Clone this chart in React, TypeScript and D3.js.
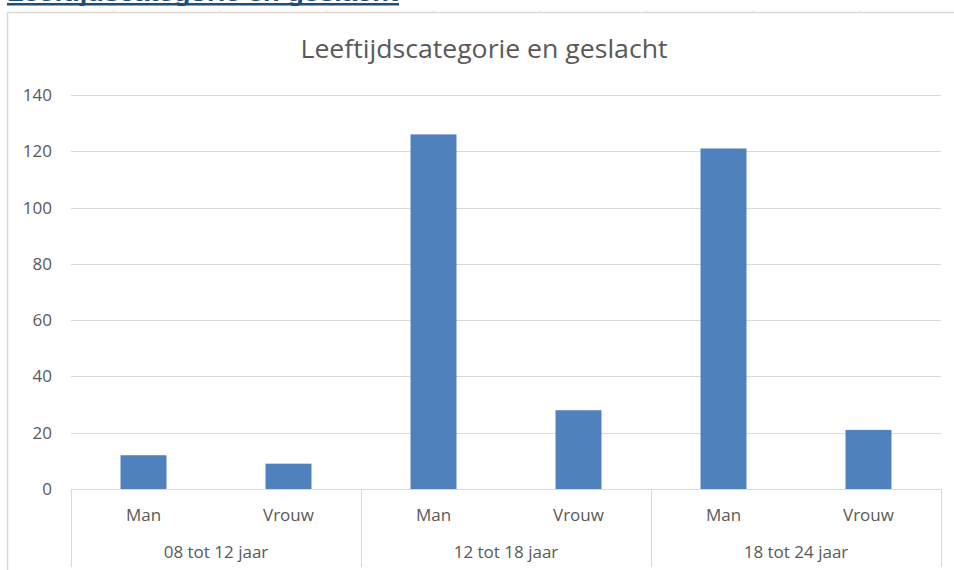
import React, { useEffect, useRef } from 'react';
import * as d3 from 'd3';

const ageGroups = ['08 tot 12 jaar', '12 tot 18 jaar', '18 tot 24 jaar'];
const genders = ['Man', 'Vrouw'];
const manValues = [12, 126, 121];
const vrouwValues = [9, 28, 21];
const yTicks = [0, 20, 40, 60, 80, 100, 120, 140];

const width = 954;
const height = 570;

const App: React.FC = () => {
  const svgRef = useRef<SVGSVGElement>(null);

  useEffect(() => {
    if (!svgRef.current) return;
    const svg = d3.select(svgRef.current);
    svg.selectAll('*').remove();

    const rows = ageGroups.flatMap((g, i) => [
      { group: g, gender: genders[0], value: manValues[i] },
      { group: g, gender: genders[1], value: vrouwValues[i] },
    ]);
    const key = (d: { group: string; gender: string }) => d.group + '|' + d.gender;

    const left = 71;
    const right = 941;
    const bottom = 489;
    const top = 95;
    const axisBottom = 567;

    const x = d3.scaleBand<string>()
      .domain(rows.map(key))
      .range([left, right])
      .paddingInner(0.683)
      .paddingOuter(0.683 / 2);
    const xGroup = d3.scaleBand<string>().domain(ageGroups).range([left, right]);
    const y = d3.scaleLinear().domain([0, 140]).range([bottom, top]);

    const grey = '#d9d9d9';
    const text = '#595959';
    const font = "'Open Sans', 'Liberation Sans', sans-serif";

    // heading above the chart, cut by the top of the page like in the screenshot
    svg.append('text')
      .attr('x', 7).attr('y', 1)
      .attr('fill', '#1f4e79')
      .attr('font-family', "'Liberation Sans', Arial, sans-serif")
      .attr('font-weight', 'bold')
      .attr('font-size', 22)
      .attr('textLength', 391)
      .attr('lengthAdjust', 'spacingAndGlyphs')
      .text('Leeftijdscategorie en geslacht');
    svg.append('rect')
      .attr('x', 7).attr('y', 3).attr('width', 392).attr('height', 2.5)
      .attr('fill', '#1f4e79');

    // sheet cell marks above the border
    svg.selectAll('.cell')
      .data(d3.range(8))
      .enter()
      .append('line')
      .attr('x1', (i) => 114 + i * 106.5)
      .attr('x2', (i) => 114 + i * 106.5)
      .attr('y1', 10).attr('y2', 12)
      .attr('stroke', '#e6e6e6');

    // chart border
    svg.append('path')
      .attr('d', `M7.5,${height} V12.5 H${width}`)
      .attr('fill', 'none')
      .attr('stroke', grey)
      .attr('stroke-width', 1.5);

    // title
    svg.append('text')
      .attr('x', 484).attr('y', 58)
      .attr('text-anchor', 'middle')
      .attr('fill', text)
      .attr('font-family', font)
      .attr('font-size', 26)
      .attr('textLength', 367)
      .attr('lengthAdjust', 'spacingAndGlyphs')
      .text('Leeftijdscategorie en geslacht');

    // gridlines
    svg.selectAll('.grid')
      .data(yTicks.filter((t) => t > 0))
      .enter()
      .append('line')
      .attr('x1', left).attr('x2', right)
      .attr('y1', (d) => Math.round(y(d)) + 0.5)
      .attr('y2', (d) => Math.round(y(d)) + 0.5)
      .attr('stroke', grey);

    // y labels
    svg.selectAll('.ylab')
      .data(yTicks)
      .enter()
      .append('text')
      .attr('x', 52)
      .attr('y', (d) => y(d))
      .attr('dy', '0.35em')
      .attr('text-anchor', 'end')
      .attr('fill', text)
      .attr('font-family', font)
      .attr('font-size', 17)
      .text((d) => d);

    // bars
    svg.selectAll('.bar')
      .data(rows)
      .enter()
      .append('rect')
      .attr('x', (d) => x(key(d))!)
      .attr('y', (d) => y(d.value))
      .attr('width', x.bandwidth())
      .attr('height', (d) => bottom - y(d.value))
      .attr('fill', '#4f81bd');

    // category axis
    svg.append('line')
      .attr('x1', left).attr('x2', right)
      .attr('y1', bottom + 0.5).attr('y2', bottom + 0.5)
      .attr('stroke', grey);
    const seps = ageGroups.map((g) => xGroup(g)!).concat([right]);
    svg.selectAll('.sep')
      .data(seps)
      .enter()
      .append('line')
      .attr('x1', (d) => Math.round(d) + 0.5)
      .attr('x2', (d) => Math.round(d) + 0.5)
      .attr('y1', bottom).attr('y2', axisBottom)
      .attr('stroke', grey);

    svg.selectAll('.xlab')
      .data(rows)
      .enter()
      .append('text')
      .attr('x', (d) => x(key(d))! + x.bandwidth() / 2)
      .attr('y', 515)
      .attr('dy', '0.35em')
      .attr('text-anchor', 'middle')
      .attr('fill', text)
      .attr('font-family', font)
      .attr('font-size', 17)
      .text((d) => d.gender);

    svg.selectAll('.glab')
      .data(ageGroups)
      .enter()
      .append('text')
      .attr('x', (d) => xGroup(d)! + xGroup.bandwidth() / 2)
      .attr('y', 552)
      .attr('dy', '0.35em')
      .attr('text-anchor', 'middle')
      .attr('fill', text)
      .attr('font-family', font)
      .attr('font-size', 17)
      .text((d) => d);
  }, []);

  return (
    <svg
      ref={svgRef}
      width={width}
      height={height}
      style={{ position: 'absolute', left: 0, top: 0, background: '#fff' }}
    />
  );
};

export default App;
